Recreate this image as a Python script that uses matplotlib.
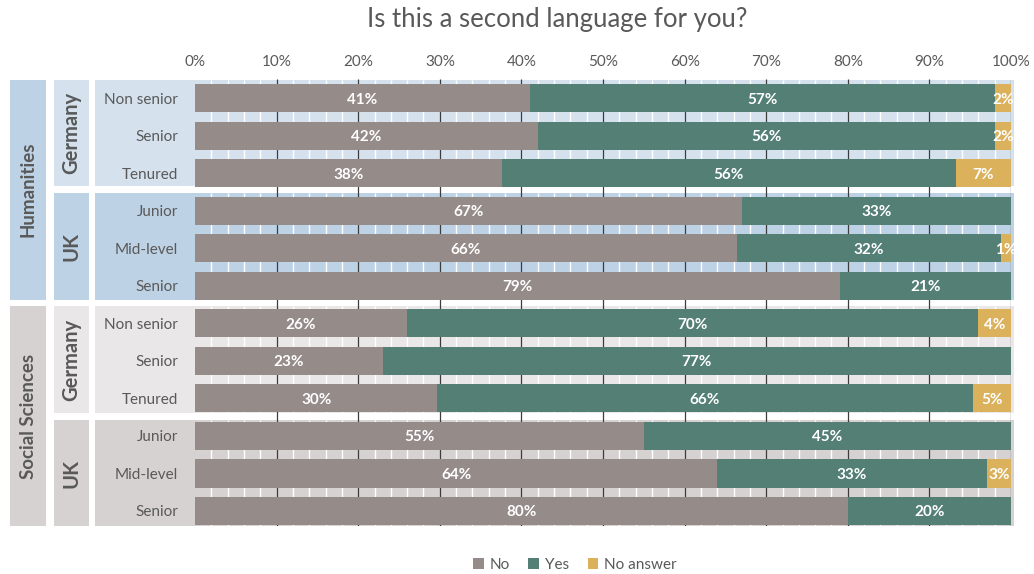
import matplotlib
matplotlib.use("Agg")
import matplotlib.pyplot as plt
from matplotlib.patches import Rectangle, Patch
from matplotlib.ticker import MultipleLocator, FuncFormatter

plt.rcParams['font.family'] = ['Lato', 'DejaVu Sans']

# ---- data -------------------------------------------------------------
fields = ["Humanities", "Social Sciences"]
countries = ["Germany", "UK"]
positions = [
    ["Non senior", "Senior", "Tenured"],
    ["Junior", "Mid-level", "Senior"],
    ["Non senior", "Senior", "Tenured"],
    ["Junior", "Mid-level", "Senior"],
]
series = ["No", "Yes", "No answer"]

no_share = [41, 42, 37.6, 67, 66.4, 79, 26, 23, 29.7, 55, 64, 80]
yes_share = [57, 56, 55.6, 33, 32.4, 21, 70, 77, 65.6, 45, 33, 20]
na_share = [2, 2, 6.8, 0, 1.2, 0, 4, 0, 4.7, 0, 3, 0]

# ---- style ------------------------------------------------------------
bar_colors = ["#958b89", "#537f74", "#dbb15b"]
text_grey = "#595959"
group_colors = {
    "Humanities": {"field": "#bed2e5", "Germany": "#d5e2ee", "UK": "#bed2e5"},
    "Social Sciences": {"field": "#d6d2d1", "Germany": "#e9e7e7", "UK": "#d6d2d1"},
}

W, H = 1034, 574
fig = plt.figure(figsize=(W / 100, H / 100), dpi=100)
x0_px, x1_px = 195, 1011
top_px, bot_px = 79, 526
ax = fig.add_axes([x0_px / W, 1 - bot_px / H, (x1_px - x0_px) / W, (bot_px - top_px) / H])

n_rows = len(no_share)
ax.set_xlim(0, 100)
ax.set_ylim(11.40, -0.51)
px_per_unit = (x1_px - x0_px) / 100.0


def px_to_x(px):
    return (px - x0_px) / px_per_unit


# background blocks: one per (field, country) group
blocks = []
for gi in range(4):
    field = fields[gi // 2]
    country = countries[gi % 2]
    y_top = 3 * gi - 0.49 + 0.02 * gi
    y_bot = 3 * gi + 2.35 + 0.02 * gi
    blocks.append((field, country, y_top, y_bot))
    col = group_colors[field][country]
    ax.add_patch(Rectangle((px_to_x(95), y_top), 100.4 - px_to_x(95), y_bot - y_top,
                           facecolor=col, edgecolor="none", zorder=0, clip_on=False))
    ax.add_patch(Rectangle((px_to_x(54), y_top), px_to_x(89) - px_to_x(54), y_bot - y_top,
                           facecolor=col, edgecolor="none", zorder=0, clip_on=False))
    ax.text((px_to_x(54) + px_to_x(89)) / 2, (y_top + y_bot) / 2, country,
            rotation=90, ha="center", va="center", fontsize=14.5, fontweight="bold",
            color=text_grey, clip_on=False)
    # minor white gridlines only over the coloured block
    ax.vlines([v for v in range(2, 100, 2) if v % 10], y_top, y_bot,
              colors="white", linewidth=1.0, zorder=0.4)

for fi, field in enumerate(fields):
    y_top = blocks[2 * fi][2]
    y_bot = blocks[2 * fi + 1][3]
    ax.add_patch(Rectangle((px_to_x(10), y_top), px_to_x(46) - px_to_x(10), y_bot - y_top,
                           facecolor=group_colors[field]["field"], edgecolor="none",
                           zorder=0, clip_on=False))
    ax.text((px_to_x(10) + px_to_x(46)) / 2, (y_top + y_bot) / 2, field,
            rotation=90, ha="center", va="center", fontsize=13.5, fontweight="bold",
            color=text_grey, clip_on=False)

# major gridlines every 10 %
ax.vlines(range(10, 101, 10), -0.51, 11.40, colors="#3c3c3c", linewidth=0.9, zorder=0.5)

# stacked bars
rows = list(range(n_rows))
left = [0.0] * n_rows
for vals, col in zip([no_share, yes_share, na_share], bar_colors):
    ax.barh(rows, vals, left=left, height=0.75, color=col, edgecolor="none", zorder=2)
    for r, (v, l) in enumerate(zip(vals, left)):
        if v > 0:
            ax.text(l + v / 2, r, f"{round(v):d}%", ha="center", va="center_baseline",
                    color="white", fontsize=11, fontweight="bold", zorder=3, clip_on=False)
    left = [a + b for a, b in zip(left, vals)]

# category labels
labels = [p for grp in positions for p in grp]
for r, lab in enumerate(labels):
    ax.text(px_to_x(178), r, lab, ha="right", va="center_baseline", fontsize=11,
            color=text_grey, clip_on=False)

# axes cosmetics
ax.xaxis.tick_top()
ax.xaxis.set_major_locator(MultipleLocator(10))
ax.xaxis.set_major_formatter(FuncFormatter(lambda v, p: f"{int(v)}%"))
ax.tick_params(axis="x", length=0, pad=7, labelsize=11, labelcolor=text_grey)
ax.set_yticks([])
for s in ax.spines.values():
    s.set_visible(False)
ax.patch.set_alpha(0)

fig.text(0.539, 1 - 19 / H, "Is this a second language for you?", ha="center", va="center",
         fontsize=18.5, color=text_grey)

handles = [Patch(facecolor=c, edgecolor="none", label=s) for c, s in zip(bar_colors, series)]
fig.legend(handles=handles, loc="center", bbox_to_anchor=(0.556, 1 - 565 / H), ncol=3,
           frameon=False, fontsize=11, handlelength=0.7, handleheight=0.7,
           handletextpad=0.4, columnspacing=1.2, labelcolor=text_grey)

fig.savefig("out.png", dpi=100)
